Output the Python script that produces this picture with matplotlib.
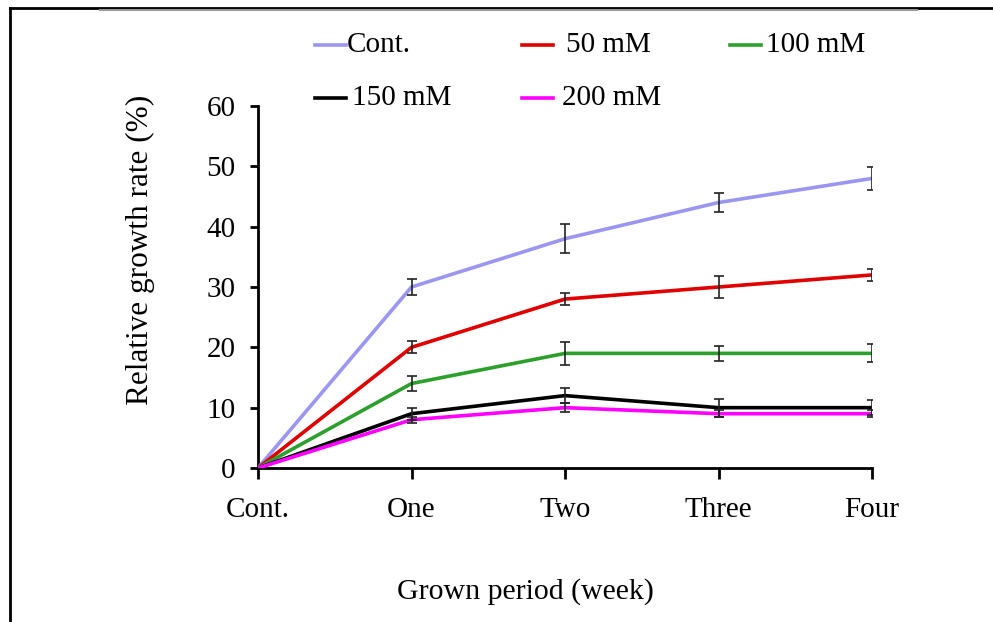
import matplotlib
matplotlib.use("Agg")
import matplotlib.pyplot as plt
from matplotlib.lines import Line2D

plt.rcParams['font.family'] = ['Liberation Serif', 'DejaVu Serif']

periods = ["Cont.", "One", "Two", "Three", "Four"]
series_names = ["Cont.", "50 mM", "100 mM", "150 mM", "200 mM"]
colors = ["#9b96f2", "#e00000", "#2ca02c", "#000000", "#ff00ff"]

cont_vals = [0, 30, 38, 44, 48]
cont_err = [0, 1.25, 2.4, 1.55, 1.9]
mm50_vals = [0, 20, 28, 30, 32]
mm50_err = [0, 1.0, 1.0, 1.8, 1.0]
mm100_vals = [0, 14, 19, 19, 19]
mm100_err = [0, 1.2, 1.9, 1.2, 1.5]
mm150_vals = [0, 9, 12, 10, 10]
mm150_err = [0, 1.0, 1.3, 1.5, 1.2]
mm200_vals = [0, 8, 10, 9, 9]
mm200_err = [0, 0.5, 0.8, 0.55, 0.6]

all_vals = [cont_vals, mm50_vals, mm100_vals, mm150_vals, mm200_vals]
all_errs = [cont_err, mm50_err, mm100_err, mm150_err, mm200_err]

W, H = 993, 622
fig = plt.figure(figsize=(W / 100, H / 100), dpi=100)
ax = fig.add_axes([258 / W, 1 - 468 / H, (872 - 258) / W, (468 - 106) / H])

x = list(range(len(periods)))
for vals, errs, c in zip(all_vals, all_errs, colors):
    ax.plot(x, vals, color=c, lw=2.6, zorder=3, solid_capstyle='butt')
for vals, errs in zip(all_vals, all_errs):
    ax.errorbar(x[1:], vals[1:], yerr=errs[1:], fmt='none', ecolor='#222222',
                elinewidth=1.2, capsize=3.5, capthick=1.2, zorder=4)

ax.set_xlim(0, 4)
ax.set_ylim(0, 60)
ax.set_xticks(x)
ax.set_xticklabels(periods)
ax.set_yticks(range(0, 61, 10))
for s in ['top', 'right']:
    ax.spines[s].set_visible(False)
for s in ['left', 'bottom']:
    ax.spines[s].set_linewidth(2)
ax.tick_params(axis='x', direction='out', length=8, width=2, labelsize=21, pad=13)
ax.tick_params(axis='y', direction='out', length=6, width=2, labelsize=21, pad=10)

fig.text(140 / W, 1 - 250 / H, "Relative growth rate (%)", rotation=90,
         ha='center', va='center', fontsize=22.5)
fig.text(525 / W, 1 - 592 / H, "Grown period (week)", ha='center', va='center', fontsize=21.5)

# legend drawn manually in figure coordinates
legend_pos = [(315, 45, 347), (522, 45, 566), (730, 45, 766), (315, 98, 352), (522, 98, 562)]
for name, c, (lx, ly, tx) in zip(series_names, colors, legend_pos):
    fig.add_artist(Line2D([lx / W, (lx + 31) / W], [1 - ly / H, 1 - ly / H],
                          color=c, lw=2.6, transform=fig.transFigure))
    fig.text(tx / W, 1 - ly / H, name, ha='left', va='center', fontsize=21)

# frame lines
fig.add_artist(Line2D([10 / W, 1], [1 - 8 / H, 1 - 8 / H], color='black', lw=2,
                      transform=fig.transFigure))
fig.add_artist(Line2D([10 / W, 10 / W], [1 - 8 / H, 0], color='black', lw=2,
                      transform=fig.transFigure))
fig.add_artist(Line2D([100 / W, 917 / W], [1 - 10 / H, 1 - 10 / H], color='#999999', lw=1.5,
                      transform=fig.transFigure))

fig.savefig("out.png", dpi=100)
